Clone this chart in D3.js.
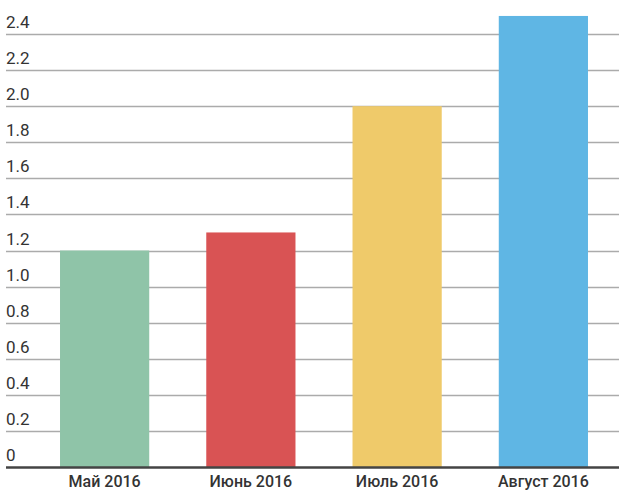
<!DOCTYPE html>
<html>
<head>
<meta charset="utf-8">
<script src="https://cdn.jsdelivr.net/npm/d3@7"></script>
<style>
  body { margin: 0; background: #fff; }
  svg { display: block; font-family: Roboto, "Noto Sans", sans-serif; }
</style>
</head>
<body>
<script>
'use strict';

// chart data
let months = ["Май 2016", "Июнь 2016", "Июль 2016", "Август 2016"];
let values = [1.2, 1.3, 2.0, 2.5];
let colors = ["#8fc4a8", "#d95354", "#efca6a", "#5fb6e4"];
let yTicks = [0, 0.2, 0.4, 0.6, 0.8, 1.0, 1.2, 1.4, 1.6, 1.8, 2.0, 2.2, 2.4];

let width = 625, height = 495;
let baseY = 467, topY = 34;   // y of 0 and of 2.4
let gridLeft = 6, gridRight = 619;

let svg = d3.select("body")
  .append("svg")
  .attr("width", width)
  .attr("height", height);

let x = d3.scaleBand()
  .domain(months)
  .range([31.5, 616.5])
  .paddingInner(0.39)
  .paddingOuter(0.195);

let y = d3.scaleLinear()
  .domain([0, 2.4])
  .range([baseY, topY]);

// gridlines and y labels
let grid = svg.append("g");
grid.selectAll("line")
  .data(yTicks.filter(d => d > 0))
  .enter()
  .append("line")
  .attr("x1", gridLeft)
  .attr("x2", gridRight)
  .attr("y1", d => Math.round(y(d)) + 0.5)
  .attr("y2", d => Math.round(y(d)) + 0.5)
  .style("stroke", "#ababab")
  .style("stroke-width", 1.5);

grid.selectAll("text")
  .data(yTicks)
  .enter()
  .append("text")
  .attr("x", gridLeft)
  .attr("y", d => y(d) - 6)
  .style("font-size", "17px")
  .style("fill", "#333")
  .text(d => d === 0 ? "0" : d.toFixed(1));

// bars
svg.selectAll(".bar")
  .data(values)
  .enter()
  .append("rect")
  .attr("class", "bar")
  .attr("x", (d, i) => x(months[i]))
  .attr("y", d => y(d))
  .attr("width", x.bandwidth())
  .attr("height", d => baseY - y(d))
  .attr("fill", (d, i) => colors[i]);

// baseline
svg.append("line")
  .attr("x1", gridLeft)
  .attr("x2", gridRight)
  .attr("y1", baseY + 0.5)
  .attr("y2", baseY + 0.5)
  .style("stroke", "#444")
  .style("stroke-width", 2.5);

// x axis labels
let xAxis = d3.axisBottom(x).tickSize(0).tickPadding(0);
let gx = svg.append("g")
  .attr("transform", "translate(0," + baseY + ")")
  .call(xAxis);
gx.select(".domain").remove();
gx.selectAll("text")
  .attr("y", 20)
  .attr("dy", 0)
  .style("font-family", "Roboto, sans-serif")
  .style("font-size", "16px")
  .style("font-weight", "500")
  .style("fill", "#333");
</script>
</body>
</html>
